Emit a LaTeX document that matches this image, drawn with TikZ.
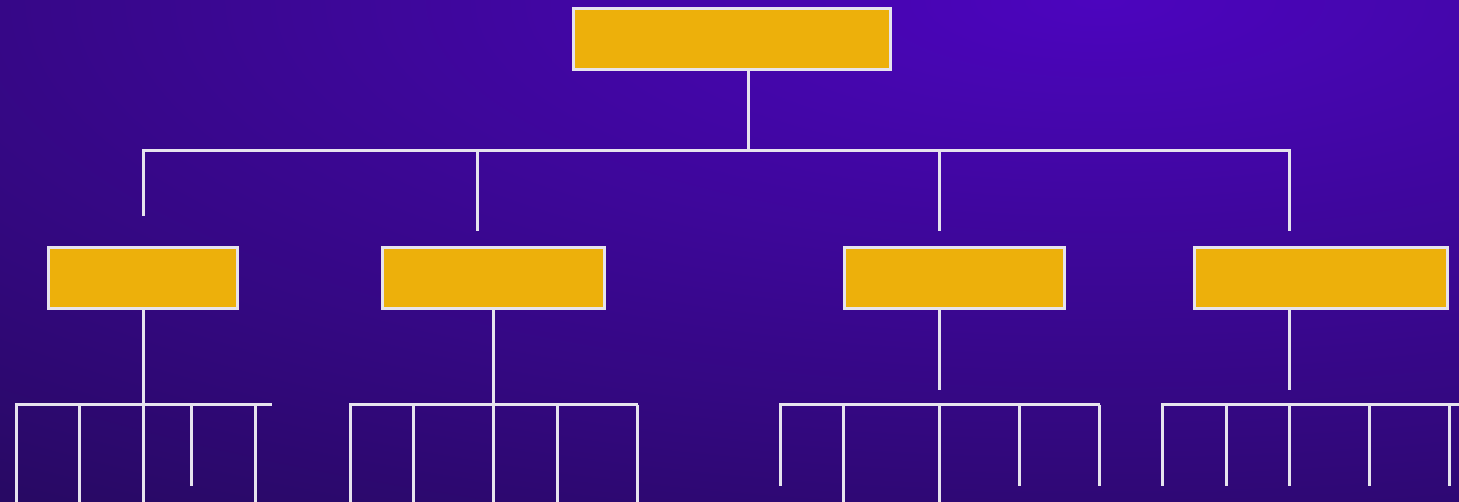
\documentclass[tikz,border=0pt]{standalone}
\usetikzlibrary{positioning}

\definecolor{bgdunkel}{HTML}{280964}
\definecolor{bghell}{HTML}{4C05BE}
\definecolor{kastengold}{HTML}{EDB00B}
\definecolor{liniengrau}{HTML}{E6E3EE}

\tikzset{
  kasten/.style={draw=liniengrau, fill=kastengold, line width=3pt, inner sep=0pt, minimum height=61pt},
  linie/.style={draw=liniengrau, line width=3pt}
}

\begin{document}
\begin{tikzpicture}[x=1pt, y=-1pt]
    % Hintergrund
    \useasboundingbox (0,0) rectangle (1459,502);
    \begin{scope}
        \clip (0,0) rectangle (1459,502);
        \fill[bgdunkel] (0,0) rectangle (1459,502);
        \shade[inner color=bghell, outer color=bgdunkel] (1100,0) ellipse (1800 and 620);
    \end{scope}

    % Kaesten
    \node[kasten, minimum width=317pt] (leitung) at (732,39) {};
    \node[kasten, minimum width=189pt] (abtA) at (143,278) {};
    \node[kasten, minimum width=222pt] (abtB) at (493.5,278) {};
    \node[kasten, minimum width=220pt] (abtC) at (954.5,278) {};
    \node[kasten, minimum width=253pt] (abtD) at (1321,278) {};

    % obere Verteilung
    \coordinate (stamm) at (748,151);
    \draw[linie] (stamm |- leitung.south) -- (stamm);
    \draw[linie, line cap=rect] (143,151) -- (1289,151);
    \foreach \x/\e in {143/216, 477/231, 939/231, 1289/231}
        \draw[linie] (\x,151) -- (\x,\e);

    % Staemme unter den Abteilungen
    \draw[linie] (abtA.south) -- (143,405);
    \draw[linie] (493,310) -- (493,405);
    \draw[linie] (939,310) -- (939,390);
    \draw[linie] (1289,310) -- (1289,390);

    % Gruppe A
    \draw[linie] (15,405) -- (272,405);
    \foreach \x/\e in {16/510, 79/510, 143/510, 191/486, 255/510}
        \draw[linie] (\x,405) -- (\x,\e);

    % Gruppe B
    \draw[linie] (349,405) -- (638,405);
    \foreach \x/\e in {350/510, 413/510, 493/510, 557/510, 637/510}
        \draw[linie] (\x,405) -- (\x,\e);

    % Gruppe C
    \draw[linie] (779,405) -- (1100,405);
    \foreach \x/\e in {780/486, 843/510, 939/510, 1019/486, 1099/486}
        \draw[linie] (\x,405) -- (\x,\e);

    % Gruppe D
    \draw[linie] (1161,405) -- (1465,405);
    \foreach \x/\e in {1162/486, 1226/486, 1289/486, 1369/486, 1449/486}
        \draw[linie] (\x,405) -- (\x,\e);
\end{tikzpicture}
\end{document}
